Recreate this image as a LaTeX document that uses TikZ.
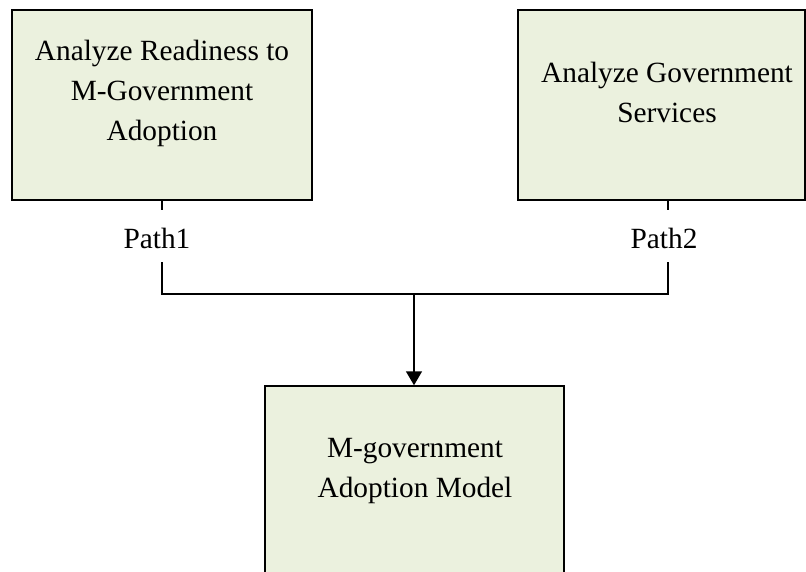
\documentclass[tikz,border=0pt]{standalone}
\usepackage{fontspec}
\setmainfont{Liberation Serif}
\usetikzlibrary{arrows.meta}
\definecolor{boxfill}{RGB}{235,241,222}
\begin{document}
\begin{tikzpicture}[x=0.75pt,y=-0.75pt,
  box/.style={draw=black, line width=1.1pt, fill=boxfill, inner sep=0pt},
  lbl/.style={font=\fontsize{22}{30}\selectfont, align=center, inner sep=0pt},
  pathlbl/.style={font=\fontsize{22}{30}\selectfont, inner sep=0pt},
  conn/.style={line width=1.1pt}]
\useasboundingbox (0,0) rectangle (806,571);
\clip (0,0) rectangle (806,571);
% boxes
\node[box, minimum width=225pt, minimum height=142.5pt] (a) at (162,105) {};
\node[lbl] (atext) at (162,93) {Analyze Readiness to\\M-Government\\Adoption};
\node[box, minimum width=215.25pt, minimum height=142.5pt] (b) at (661.5,105) {};
\node[lbl] (btext) at (667,92) {Analyze Government\\Services};
\node[box, minimum width=224.25pt, minimum height=160.5pt] (c) at (414.5,493) {};
\node[lbl] (ctext) at (415,471) {M-government\\Adoption Model};
% path labels
\node[pathlbl] (p1) at (157,238) {Path1};
\node[pathlbl] (p2) at (664,238) {Path2};
% connectors
\coordinate (g1t) at (162,210);
\coordinate (g1b) at (162,262);
\coordinate (g2t) at (668,210);
\coordinate (g2b) at (668,262);
\coordinate (jl) at (162,294);
\coordinate (jr) at (668,294);
\coordinate (jm) at (414,294);
\draw[conn] (a.south -| g1t) -- (g1t);
\draw[conn] (b.south -| g2t) -- (g2t);
\draw[conn] (g1b) -- (jl) -- (jr) -- (g2b);
\draw[conn, -{Triangle[width=12pt,length=10.5pt]}] (jm) -- (c.north -| jm);
\end{tikzpicture}
\end{document}
